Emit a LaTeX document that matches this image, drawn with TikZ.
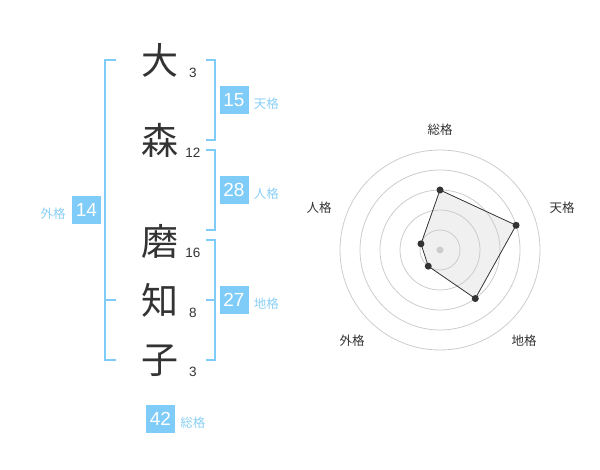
\documentclass[tikz,border=0pt]{standalone}
\usepackage{fontspec}
\usetikzlibrary{calc}
\setmainfont{Liberation Sans}
\newfontfamily\jp{Noto Sans CJK JP}
\definecolor{bl}{HTML}{80CCF8}
\definecolor{lbl}{HTML}{8ACFF5}
\definecolor{ink}{HTML}{333333}
\definecolor{ringc}{HTML}{CCCCCC}
\definecolor{polyf}{HTML}{F0F0F0}
\tikzset{
  kanji/.style={font=\jp\fontsize{37}{37}\selectfont, text=ink, inner sep=0},
  strokes/.style={font=\fontsize{13.5}{14}\selectfont, text=ink, inner sep=0},
  numbox/.style={fill=bl, text=white, font=\fontsize{19}{20}\selectfont, minimum width=29pt, minimum height=28pt, inner sep=0},
  kaku/.style={text=lbl, font=\jp\fontsize{12.5}{12.5}\selectfont, inner sep=0},
  brk/.style={draw=bl, line width=2pt},
  ring/.style={draw=ringc, line width=0.8pt},
  radlbl/.style={font=\jp\fontsize{12.5}{12.5}\selectfont, text=ink, inner sep=0},
  poly/.style={draw=ink, line width=0.8pt},
  polyfill/.style={fill=polyf},
  dot/.style={circle, fill=ink, inner sep=0, minimum size=7pt},
}
\begin{document}
\begin{tikzpicture}[x=1pt,y=-1pt]
\useasboundingbox (0,0) rectangle (600,470);
% name characters
\node[kanji] (c1) at (160,60) {大};
\node[kanji] (c2) at (160,140) {森};
\node[kanji] (c3) at (160,241) {磨};
\node[kanji] (c4) at (160,300) {知};
\node[kanji] (c5) at (160,361) {子};
\node[strokes] (s1) at (193,73) {3};
\node[strokes] (s2) at (193,153) {12};
\node[strokes] (s3) at (193,253) {16};
\node[strokes] (s4) at (193,313) {8};
\node[strokes] (s5) at (193,372) {3};
% brackets
\draw[brk] (116,60) -- (105,60) -- (105,360) -- (116,360);
\draw[brk] (105,300) -- (116,300);
\draw[brk] (206,60) -- (215,60) -- (215,140) -- (206,140);
\draw[brk] (206,150) -- (215,150) -- (215,230) -- (206,230);
\draw[brk] (206,240) -- (215,240) -- (215,360) -- (206,360);
\draw[brk] (206,300) -- (215,300);
% boxes
\node[numbox] (ten) at (234,100) {15};
\node[kaku, anchor=west] (tenl) at ([xshift=5pt,yshift=-4pt]ten.east) {天格};
\node[numbox] (jin) at (234,190) {28};
\node[kaku, anchor=west] (jinl) at ([xshift=5pt,yshift=-4pt]jin.east) {人格};
\node[numbox] (chi) at (234,300) {27};
\node[kaku, anchor=west] (chil) at ([xshift=5pt,yshift=-4pt]chi.east) {地格};
\node[numbox] (gai) at (86.5,210) {14};
\node[kaku, anchor=east] (gail) at ([xshift=-6pt,yshift=-4pt]gai.west) {外格};
\node[numbox] (sou) at (160.5,419) {42};
\node[kaku, anchor=west] (soul) at ([xshift=5pt,yshift=-4pt]sou.east) {総格};
% radar
\coordinate (O) at (440,250);
\coordinate (pS) at ($(O)+(-90:60)$);
\coordinate (pT) at ($(O)+(-18:80)$);
\coordinate (pC) at ($(O)+(54:60)$);
\coordinate (pG) at ($(O)+(126:20)$);
\coordinate (pJ) at ($(O)+(198:20)$);
\fill[polyfill] (pS) -- (pT) -- (pC) -- (pG) -- (pJ) -- cycle;
\foreach \r in {20,40,60,80,100} \draw[ring] (O) circle[radius=\r];
\fill[ringc] (O) circle[radius=3.5];
\draw[poly] (pS) -- (pT) -- (pC) -- (pG) -- (pJ) -- cycle;
\foreach \p in {pS,pT,pC,pG,pJ} \node[dot] at (\p) {};
\node[radlbl] (rS) at (440,130) {総格};
\node[radlbl] (rT) at (562,208) {天格};
\node[radlbl] (rC) at (524,341) {地格};
\node[radlbl] (rG) at (352,341) {外格};
\node[radlbl] (rJ) at (319,208) {人格};
\end{tikzpicture}
\end{document}
